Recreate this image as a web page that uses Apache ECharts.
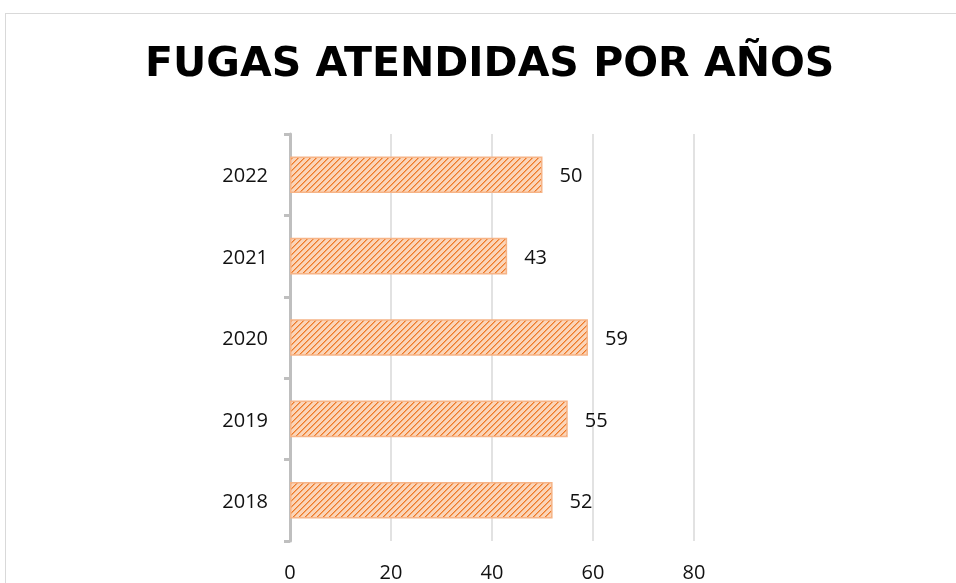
<!DOCTYPE html>
<html>
<head>
<meta charset="utf-8">
<script src="https://cdn.jsdelivr.net/npm/echarts@6/dist/echarts.min.js"></script>
<style>
  html, body { margin: 0; padding: 0; background: #fff; }
  #frame { position: absolute; left: 5px; top: 13px; width: 1000px; height: 700px; border: 1px solid #d9d9d9; box-sizing: border-box; }
  #chart { position: absolute; left: 0; top: 0; width: 956px; height: 583px; }
</style>
</head>
<body>
<div id="frame"></div>
<div id="chart"></div>
<script>
// Chart data
const years = ['2018', '2019', '2020', '2021', '2022']
const fugas = [52, 55, 59, 43, 50]
const xTicks = [0, 20, 40, 60, 80]

// Hatched fill like the Excel pattern (light peach + orange diagonals)
function makeHatch() {
    const n = 6
    const c = document.createElement('canvas')
    c.width = n
    c.height = n
    const ctx = c.getContext('2d')
    ctx.fillStyle = '#fbd5b9'
    ctx.fillRect(0, 0, n, n)
    for (let i = 0; i < n; i++) {
        ctx.fillStyle = '#f4a468'
        ctx.fillRect((i + 1) % n, n - 1 - i, 1, 1)
        ctx.fillStyle = '#ee7a2a'
        ctx.fillRect(i, n - 1 - i, 1, 1)
    }
    return c
}

const chart = echarts.init(document.getElementById('chart'))

chart.setOption({
    animation: false,
    textStyle: { fontFamily: "'Open Sans', sans-serif" },
    title: {
        text: 'FUGAS ATENDIDAS POR AÑOS',
        left: 140,
        top: 40,
        textStyle: {
            fontFamily: "'DejaVu Sans', sans-serif",
            fontSize: 41,
            fontWeight: 'bold',
            color: '#000'
        }
    },
    grid: { left: 290, right: 262, top: 134, bottom: 42, containLabel: false },
    xAxis: {
        type: 'value',
        min: xTicks[0],
        max: xTicks[xTicks.length - 1],
        interval: 20,
        axisLine: { show: false },
        axisTick: { show: false },
        axisLabel: { color: '#111', fontSize: 20, margin: 22 },
        splitLine: { lineStyle: { color: '#d9d9d9', width: 1.5 } }
    },
    yAxis: {
        type: 'category',
        data: years,
        axisLine: { lineStyle: { color: '#bfbfbf', width: 3 } },
        axisTick: { show: true, length: 6, lineStyle: { color: '#bfbfbf', width: 3 } },
        axisLabel: { color: '#111', fontSize: 20, margin: 22, lineHeight: 26, verticalAlign: 'top', padding: [-11, 0, 0, 0] }
    },
    series: [{
        type: 'bar',
        data: fugas,
        barCategoryGap: '55%',
        itemStyle: {
            color: { image: makeHatch(), repeat: 'repeat' },
            borderColor: '#f6b487',
            borderWidth: 1.5
        },
        label: {
            show: true,
            position: 'right',
            distance: 17,
            color: '#111',
            fontSize: 20,
            offset: [0, 2]
        }
    }]
})
</script>
</body>
</html>
